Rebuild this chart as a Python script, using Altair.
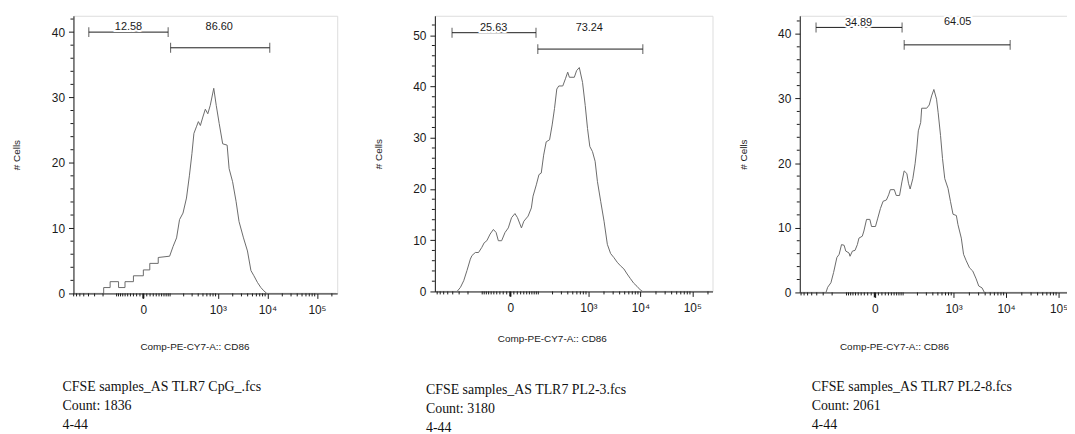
import math
import altair as alt
import pandas as pd

# ---------------- data (x in display units of the biexponential axis, y = # cells)
p1_x = [0.09, 0.70, 0.70, 0.83, 0.83, 1.00, 1.00, 1.13, 1.13, 1.30, 1.30, 1.50, 1.50, 1.63, 1.63, 1.80, 1.80,
        2.03, 2.10, 2.17, 2.23, 2.30, 2.37, 2.43, 2.48, 2.52, 2.57, 2.61, 2.65, 2.70, 2.75, 2.80, 2.85, 2.92,
        2.97, 3.03, 3.10, 3.19, 3.23, 3.30, 3.37, 3.43, 3.52, 3.60, 3.67, 3.73, 3.80, 3.87, 3.93, 3.99, 5.39]
p1_y = [0, 0, 0.9, 0.9, 1.8, 1.8, 0.9, 0.9, 1.8, 1.8, 2.7, 2.7, 3.6, 3.6, 4.6, 4.6, 5.5,
        5.7, 7.2, 8.5, 11.3, 12.3, 14.6, 18.1, 21.4, 24.5, 25.5, 26.3, 25.7, 27.0, 28.2, 27.5, 28.8, 31.4,
        28.8, 26.0, 22.9, 22.7, 19.1, 17.1, 14.1, 11.0, 8.5, 6.5, 3.5, 2.7, 1.7, 0.9, 0.4, 0, 0]

p2_x = [0.07, 0.477, 0.542, 0.605, 0.668, 0.732, 0.763, 0.828, 0.890, 0.953, 0.999, 1.049, 1.113, 1.176,
        1.228, 1.271, 1.334, 1.399, 1.462, 1.525, 1.590, 1.639, 1.715, 1.761, 1.843, 1.906, 1.938, 2.001,
        2.052, 2.096, 2.142, 2.191, 2.256, 2.306, 2.351, 2.395, 2.433, 2.51, 2.561, 2.605, 2.637, 2.732,
        2.776, 2.828, 2.890, 2.942, 2.986, 3.03, 3.081, 3.132, 3.176, 3.239, 3.304, 3.367, 3.430, 3.494,
        3.557, 3.62, 3.685, 3.748, 3.811, 3.875, 3.938, 4.001, 4.047, 5.39]
p2_y = [0, 0, 0.8, 2.1, 4.1, 6.3, 7.0, 7.6, 7.6, 8.6, 9.5, 9.9, 11.2, 12.1,
        11.5, 9.9, 9.9, 11.5, 12.4, 14.4, 15.2, 14.4, 12.4, 13.7, 14.7, 16.3, 18.6, 20.8,
        22.8, 23.1, 26.6, 29.2, 29.6, 32.5, 35.7, 39.5, 40.1, 40.1, 41.5, 42.8, 41.8, 41.8,
        43.1, 43.7, 40.8, 36.3, 31.8, 28.3, 27.3, 25.4, 21.5, 17.6, 13.7, 9.2, 7.4, 6.6,
        5.7, 5.0, 4.4, 3.4, 2.5, 1.6, 1.0, 0.3, 0, 0]

p3_x = [0.07, 0.570, 0.602, 0.664, 0.715, 0.777, 0.821, 0.866, 0.915, 0.947, 1.009, 1.028, 1.074, 1.123,
        1.168, 1.198, 1.262, 1.292, 1.343, 1.406, 1.438, 1.513, 1.557, 1.608, 1.658, 1.721, 1.764, 1.796,
        1.872, 1.909, 1.972, 2.017, 2.060, 2.111, 2.142, 2.174, 2.225, 2.268, 2.30, 2.330, 2.375, 2.394,
        2.489, 2.538, 2.583, 2.626, 2.677, 2.708, 2.753, 2.791, 2.834, 2.896, 2.942, 2.991, 3.055, 3.085,
        3.149, 3.192, 3.243, 3.306, 3.368, 3.432, 3.481, 3.545, 3.589, 5.4]
p3_y = [0, 0, 0.8, 1.5, 3.1, 5.4, 5.9, 7.4, 7.3, 6.4, 6.1, 5.6, 6.4, 6.5,
        7.4, 8.4, 8.7, 9.5, 11.3, 11.3, 10.2, 10.2, 11.5, 13.0, 14.1, 14.3, 15.1, 15.9,
        15.9, 15.0, 15.0, 17.1, 18.8, 18.4, 16.9, 16.0, 17.6, 19.9, 22.2, 25.0, 26.3, 28.5,
        28.5, 29.0, 30.4, 31.4, 29.9, 27.8, 24.3, 20.7, 17.6, 16.1, 14.1, 12.1, 11.9, 10.5,
        8.4, 5.9, 4.9, 3.8, 3.3, 2.1, 1.0, 0.7, 0, 0]

# gates: [x_start, x_end, y]
p1_gates = [[0.40, 2.00, 40.0], [2.05, 4.05, 37.6]]
p2_gates = [[0.38, 1.995, 50.5], [2.03, 4.05, 47.3]]
p3_gates = [[0.38, 2.02, 41.0], [2.06, 4.08, 38.3]]
# gate labels: [x, y, text]
p1_gate_labels = [[1.20, 40.8, "12.58"], [3.03, 40.8, "86.60"]]
p2_gate_labels = [[1.18, 51.5, "25.63"], [3.02, 51.4, "73.24"]]
p3_gate_labels = [[1.19, 41.7, "34.89"], [3.08, 41.8, "64.05"]]

captions = [
    ["CFSE samples_AS TLR7 CpG_.fcs", "Count: 1836", "4-44"],
    ["CFSE samples_AS TLR7 PL2-3.fcs", "Count: 3180", "4-44"],
    ["CFSE samples_AS TLR7 PL2-8.fcs", "Count: 2061", "4-44"],
]

x_title = "Comp-PE-CY7-A:: CD86"
y_title = "# Cells"

# axis tick values (fluorescence values) and labels
major_values = [0, 1e3, 1e4, 1e5]
major_labels = ["0", "10³", "10⁴", "10⁵"]
minor_values = ([-100 * k for k in range(1, 9)] + [-10 * k for k in range(1, 10)] +
                [10 * k for k in range(1, 10)] + [100 * k for k in range(1, 10)] +
                [1000 * k for k in range(2, 10)] + [10000 * k for k in range(2, 10)] + [200000])


def disp(v):
    # biexponential (asinh) display position used by the x axis
    return round(1.5 + math.asinh(v / 63.0) / math.log(10), 4)


major_pos = [disp(v) for v in major_values]
minor_pos = [disp(v) for v in minor_values]
x_label_expr = "".join(f"abs(datum.value - {p}) < 0.0005 ? '{l}' : "
                       for p, l in zip(major_pos, major_labels)) + "''"

SANS = "Liberation Sans"
SERIF = "Liberation Serif"
INK = "#1a1a1a"


def panel(xs, ys, gates, glabels, caption, xdom, width, height, ymax, xtitle_x, xtitle_y, cap_dx, cap_offset):
    df = pd.DataFrame({"x": xs, "y": ys, "i": list(range(len(xs)))})
    gdf = pd.DataFrame(gates, columns=["x1", "x2", "y"])
    cdf = pd.DataFrame([[g[0], g[2]] for g in gates] + [[g[1], g[2]] for g in gates], columns=["x", "y"])
    ldf = pd.DataFrame(glabels, columns=["x", "y", "t"])
    xminor = pd.DataFrame({"x": [p for p in minor_pos if xdom[0] <= p <= xdom[1]]})
    xzero = pd.DataFrame({"x": [major_pos[0]]})
    yminor = pd.DataFrame({"y": [v for v in range(2, int(ymax) + 1, 2) if v % 10 != 0]})

    xs_ = alt.Scale(domain=xdom, nice=False, zero=False)
    ys_ = alt.Scale(domain=[0, ymax], nice=False, zero=True)

    x_axis = alt.Axis(
        values=major_pos, labelExpr=x_label_expr, title=x_title,
        tickSize=5, labelPadding=6,
        labelFont=SANS, labelFontSize=12, labelColor=INK, labelOverlap=False, labelFlush=False,
        titleFont=SANS, titleFontSize=10, titleFontWeight="normal", titleColor=INK,
        titleX=xtitle_x, titleY=xtitle_y, titleAlign="center", titleBaseline="middle",
        grid=False, domainColor=INK, tickColor=INK,
    )
    y_axis = alt.Axis(
        values=list(range(0, int(ymax) + 1, 10)),
        tickSize=5, labelPadding=4, labelFont=SANS, labelFontSize=12, labelColor=INK,
        labelOverlap=False, labelFlush=False,
        title=y_title, titleFont=SANS, titleFontSize=10, titleFontWeight="normal", titleColor=INK,
        titleAngle=-90, titleX=-57, titleY=height / 2, titleAlign="center", titleBaseline="middle",
        grid=False, domainColor=INK, tickColor=INK,
    )

    # only the first layer defines the (shared) axes; the others keep the default so the merge works
    line = alt.Chart(df).mark_line(color="#6a6a6a", strokeWidth=1, clip=True).encode(
        x=alt.X("x:Q", scale=xs_, axis=x_axis),
        y=alt.Y("y:Q", scale=ys_, axis=y_axis),
        order="i:Q",
    )
    xmin_t = alt.Chart(xminor).mark_rule(color=INK, strokeWidth=1).encode(
        x=alt.X("x:Q", scale=xs_), y=alt.value(height), y2=alt.value(height + 3))
    xzero_t = alt.Chart(xzero).mark_rule(color=INK, strokeWidth=2).encode(
        x=alt.X("x:Q", scale=xs_), y=alt.value(height), y2=alt.value(height + 5))
    ymin_t = alt.Chart(yminor).mark_rule(color=INK, strokeWidth=1).encode(
        y=alt.Y("y:Q", scale=ys_), x=alt.value(0), x2=alt.value(-3))
    rules = alt.Chart(gdf).mark_rule(color=INK, strokeWidth=1).encode(
        x=alt.X("x1:Q", scale=xs_), x2="x2:Q", y=alt.Y("y:Q", scale=ys_))
    caps = alt.Chart(cdf).mark_tick(orient="vertical", size=10, thickness=1, color=INK).encode(
        x=alt.X("x:Q", scale=xs_), y=alt.Y("y:Q", scale=ys_))
    mask = alt.Chart(ldf).mark_text(font=SANS, fontSize=11, color="white", stroke="white",
                                    strokeWidth=4, baseline="middle").encode(
        x=alt.X("x:Q", scale=xs_), y=alt.Y("y:Q", scale=ys_), text="t:N")
    text = alt.Chart(ldf).mark_text(font=SANS, fontSize=11, color=INK, baseline="middle").encode(
        x=alt.X("x:Q", scale=xs_), y=alt.Y("y:Q", scale=ys_), text="t:N")

    return alt.layer(line, xmin_t, xzero_t, ymin_t, rules, caps, mask, text).properties(
        width=width, height=height,
        title=alt.TitleParams(text=caption, orient="bottom", anchor="start", frame="group",
                              font=SERIF, fontSize=14, fontWeight="normal", color="#111",
                              lineHeight=19.5, dx=cap_dx, offset=cap_offset, align="left"),
    )


c1 = panel(p1_x, p1_y, p1_gates, p1_gate_labels, captions[0], [0.09, 5.41], 266, 280, 42.5, 122, 54, -11, 28)
c2 = panel(p2_x, p2_y, p2_gates, p2_gate_labels, captions[1], [0.05, 5.39], 280, 278, 53.8, 118, 47, -9, 40)
c3 = panel(p3_x, p3_y, p3_gates, p3_gate_labels, captions[2], [0.07, 5.40], 282, 279, 42.8, 95, 55, 12, 28)

inner = alt.HConcatChart(hconcat=[c1, c2], spacing=34.5)
# the third panel runs past the right edge of the page in the original; the negative right
# padding lets the svg viewport cut it off there instead of widening the page
chart = alt.HConcatChart(hconcat=[inner, c3], spacing=24.5).properties(
    padding={"left": 3, "top": 5, "right": -13, "bottom": 6}
).configure_view(stroke="#222", strokeWidth=1).configure(background="white")

chart.save("out.html", embed_options={"renderer": "svg", "actions": False})
